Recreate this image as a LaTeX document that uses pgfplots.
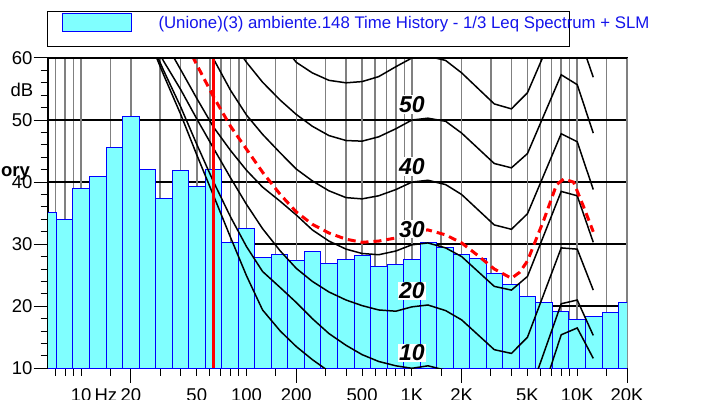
\documentclass[border=0pt]{standalone}
\usepackage{fontspec}
\setmainfont{Liberation Sans}
\usepackage{pgfplots}
\pgfplotsset{compat=1.18}
\definecolor{barfill}{RGB}{128,255,255}
\definecolor{barline}{RGB}{0,0,255}
\definecolor{legblue}{RGB}{20,20,235}
\definecolor{gridgray}{RGB}{128,128,128}
\tikzset{phonlab/.style={fill=white, inner sep=1bp, font=\fontsize{23bp}{24bp}\selectfont\bfseries\itshape}}
\begin{document}
\begin{tikzpicture}
\path[use as bounding box] (0,0) rectangle (721bp,400bp);
\begin{axis}[
  at={(48bp,31.7bp)}, anchor=south west,
  width=579bp, height=310.3bp, scale only axis,
  xmode=log, xmin=6.3, xmax=20000, ymin=10, ymax=60,
  axis line style={black, line width=1.2bp},
  tick align=outside,
  xtick pos=bottom, ytick pos=left,
  xtick={20,200,2000,20000}, xticklabels={},
  major tick length=14.5bp, minor tick length=7.5bp,
  extra x ticks={10,20,50,100,200,500,1000,2000,5000,10000,20000},
  extra x tick labels={10\rlap{\,Hz},20,50,100,200,500,1K,2K,5K,10K,20K},
  extra x tick style={major tick length=7.5bp, grid=major},
  minor xtick={7,8,9,15,30,40,60,70,80,90,150,300,400,600,700,800,900,1500,3000,4000,6000,7000,8000,9000,15000},
  xmajorgrids, xminorgrids,
  major x grid style={gridgray, line width=1.5bp},
  minor x grid style={gridgray, line width=1.5bp},
  ytick={10,20,30,40,50,60}, yticklabels={10,20,30,40,50,60},
  minor ytick={12,14,16,18,22,24,26,28,32,34,36,38,42,44,46,48,52,54,56,58},
  ymajorgrids,
  major y grid style={black, line width=1.5bp},
  tick style={black, line width=1bp},
  ticklabel style={font=\fontsize{18.5bp}{20bp}\selectfont},
  xticklabel style={inner sep=0pt, yshift=-13bp},
  yticklabel style={inner sep=1bp},
]
% 1/3 octave Leq spectrum (band lower edges, Hz ; level dB)
\addplot[ybar interval, fill=barfill, draw=barline, line width=1bp] table {
f L
5.623 35.1
7.079 34.0
8.913 38.9
11.22 40.9
14.13 45.5
17.78 50.5
22.39 42.0
28.18 37.4
35.48 41.9
44.67 39.3
56.23 42.0
70.79 30.2
89.13 32.6
112.2 27.8
141.3 28.4
177.8 27.4
223.9 28.9
281.8 26.9
354.8 27.6
446.7 28.1
562.3 26.4
707.9 26.7
891.3 27.6
1122 30.2
1413 29.5
1778 28.3
2239 27.7
2818 25.3
3548 23.5
4467 21.5
5623 20.6
7079 19.2
8913 17.9
11220 18.4
14130 19.0
17780 20.6
22390 20.6
};
% equal-loudness contours
\addplot[black, line width=1.5bp] table {
f L
25 63.8
31.5 57.3
40 50.9
50 44.4
63 37.9
80 31.1
100 24.9
125 19.4
160 16.0
200 13.5
250 11.4
315 9.5
400 8.0
500 7.0
630 6.2
800 5.7
1000 5.4
1250 5.6
1600 4.6
2000 2.0
3150 -2.5
4000 -3.5
5000 -1.2
8000 15.4
10000 16.5
12500 11.6
};
\addplot[black, line width=1.5bp] table {
f L
25 64.0
31.5 58.0
40 52.1
50 46.1
63 40.1
80 34.4
100 29.6
125 25.6
160 23.0
200 20.6
250 18.0
315 15.6
400 13.7
500 12.2
630 11.1
800 10.4
1000 10.0
1250 10.4
1600 9.7
2000 7.5
3150 3.0
4000 2.4
5000 5.0
8000 20.4
10000 21.0
12500 15.3
};
\addplot[black, line width=1.5bp] table {
f L
25 64.5
31.5 59.5
40 54.9
50 50.2
63 45.5
80 40.7
100 36.4
125 32.5
160 28.9
200 26.1
250 24.0
315 22.3
400 21.0
500 20.1
630 19.4
800 19.2
1000 19.9
1250 20.2
1600 19.3
2000 17.8
3150 13.0
4000 12.4
5000 15.0
8000 29.4
10000 29.2
12500 22.6
};
\addplot[black, line width=1.5bp] table {
f L
25 67.0
31.5 63.0
40 58.1
50 53.5
63 48.9
80 45.1
100 41.9
125 39.2
160 36.9
200 34.7
250 32.3
315 30.5
400 29.2
500 28.5
630 28.3
800 28.9
1000 29.9
1250 30.2
1600 29.4
2000 28.0
3150 23.2
4000 22.6
5000 24.8
8000 38.5
10000 37.8
12500 30.3
};
\addplot[black, line width=1.5bp] table {
f L
50 65.0
63 59.9
80 54.8
100 50.8
125 47.7
160 44.7
200 42.1
250 40.2
315 38.6
400 37.5
500 37.3
630 37.8
800 38.8
1000 40.0
1250 40.3
1600 39.6
2000 38.0
3150 33.1
4000 32.4
5000 34.9
8000 47.8
10000 46.5
12500 38.8
};
\addplot[black, line width=1.5bp] table {
f L
80 63.0
100 59.3
125 56.1
160 53.2
200 50.9
250 49.0
315 47.5
400 46.7
500 46.6
630 47.3
800 48.6
1000 50.0
1250 50.3
1600 49.8
2000 47.9
3150 43.0
4000 42.3
5000 44.6
8000 57.3
10000 55.7
12500 47.9
};
\addplot[black, line width=1.5bp] table {
f L
125 65.0
160 62.5
200 59.3
250 57.6
315 56.4
400 56.0
500 56.2
630 57.0
800 58.6
1000 60.0
1250 60.3
1600 59.6
2000 57.6
3150 52.6
4000 51.8
5000 54.4
8000 67.0
10000 64.4
12500 56.9
};
% red vertical marker at 63 Hz
\addplot[red, line width=3bp] coordinates {(63,10) (63,60)};
% red dashed curve
\addplot[red, line width=3bp, dash pattern=on 8bp off 5bp] table {
f L
47 60.3
63 53.8
80 49.0
100 45.3
125 41.6
160 38.0
200 35.2
250 33.2
315 31.8
400 30.8
500 30.3
630 30.5
800 31.0
1000 31.9
1250 32.3
1600 31.5
2000 30.2
2500 28.2
3150 26.0
4000 24.5
4500 25.5
5000 27.3
6300 34.0
7500 39.6
8300 40.5
9500 40.0
10900 36.1
12500 32.0
};
\draw[black, line width=3bp] (rel axis cs:0,1) -- (rel axis cs:1,1);
\node[phonlab] at (axis cs:1000,52.5) {50};
\node[phonlab] at (axis cs:1000,42.5) {40};
\node[phonlab] at (axis cs:1000,32.4) {30};
\node[phonlab] at (axis cs:1000,22.5) {20};
\node[phonlab] at (axis cs:1000,12.5) {10};
\end{axis}
\draw[black, line width=1.2bp] (47.7bp,353.3bp) rectangle (569.3bp,388.3bp);
\filldraw[fill=barfill, draw=barline, line width=1bp] (62bp,368bp) rectangle (131bp,386bp);
\node[anchor=base west, inner sep=0pt, text=legblue, font=\fontsize{16.8bp}{18bp}\selectfont] at (158.3bp,371bp) {(Unione)(3) ambiente.148 Time History - 1/3 Leq Spectrum + SLM};
\node[anchor=base east, inner sep=0pt, font=\fontsize{18.5bp}{20bp}\selectfont\bfseries] at (30bp,223.3bp) {ory};
\node[anchor=east, inner sep=0pt, font=\fontsize{18.5bp}{20bp}\selectfont] at (33.5bp,310bp) {dB};
\end{tikzpicture}
\end{document}
